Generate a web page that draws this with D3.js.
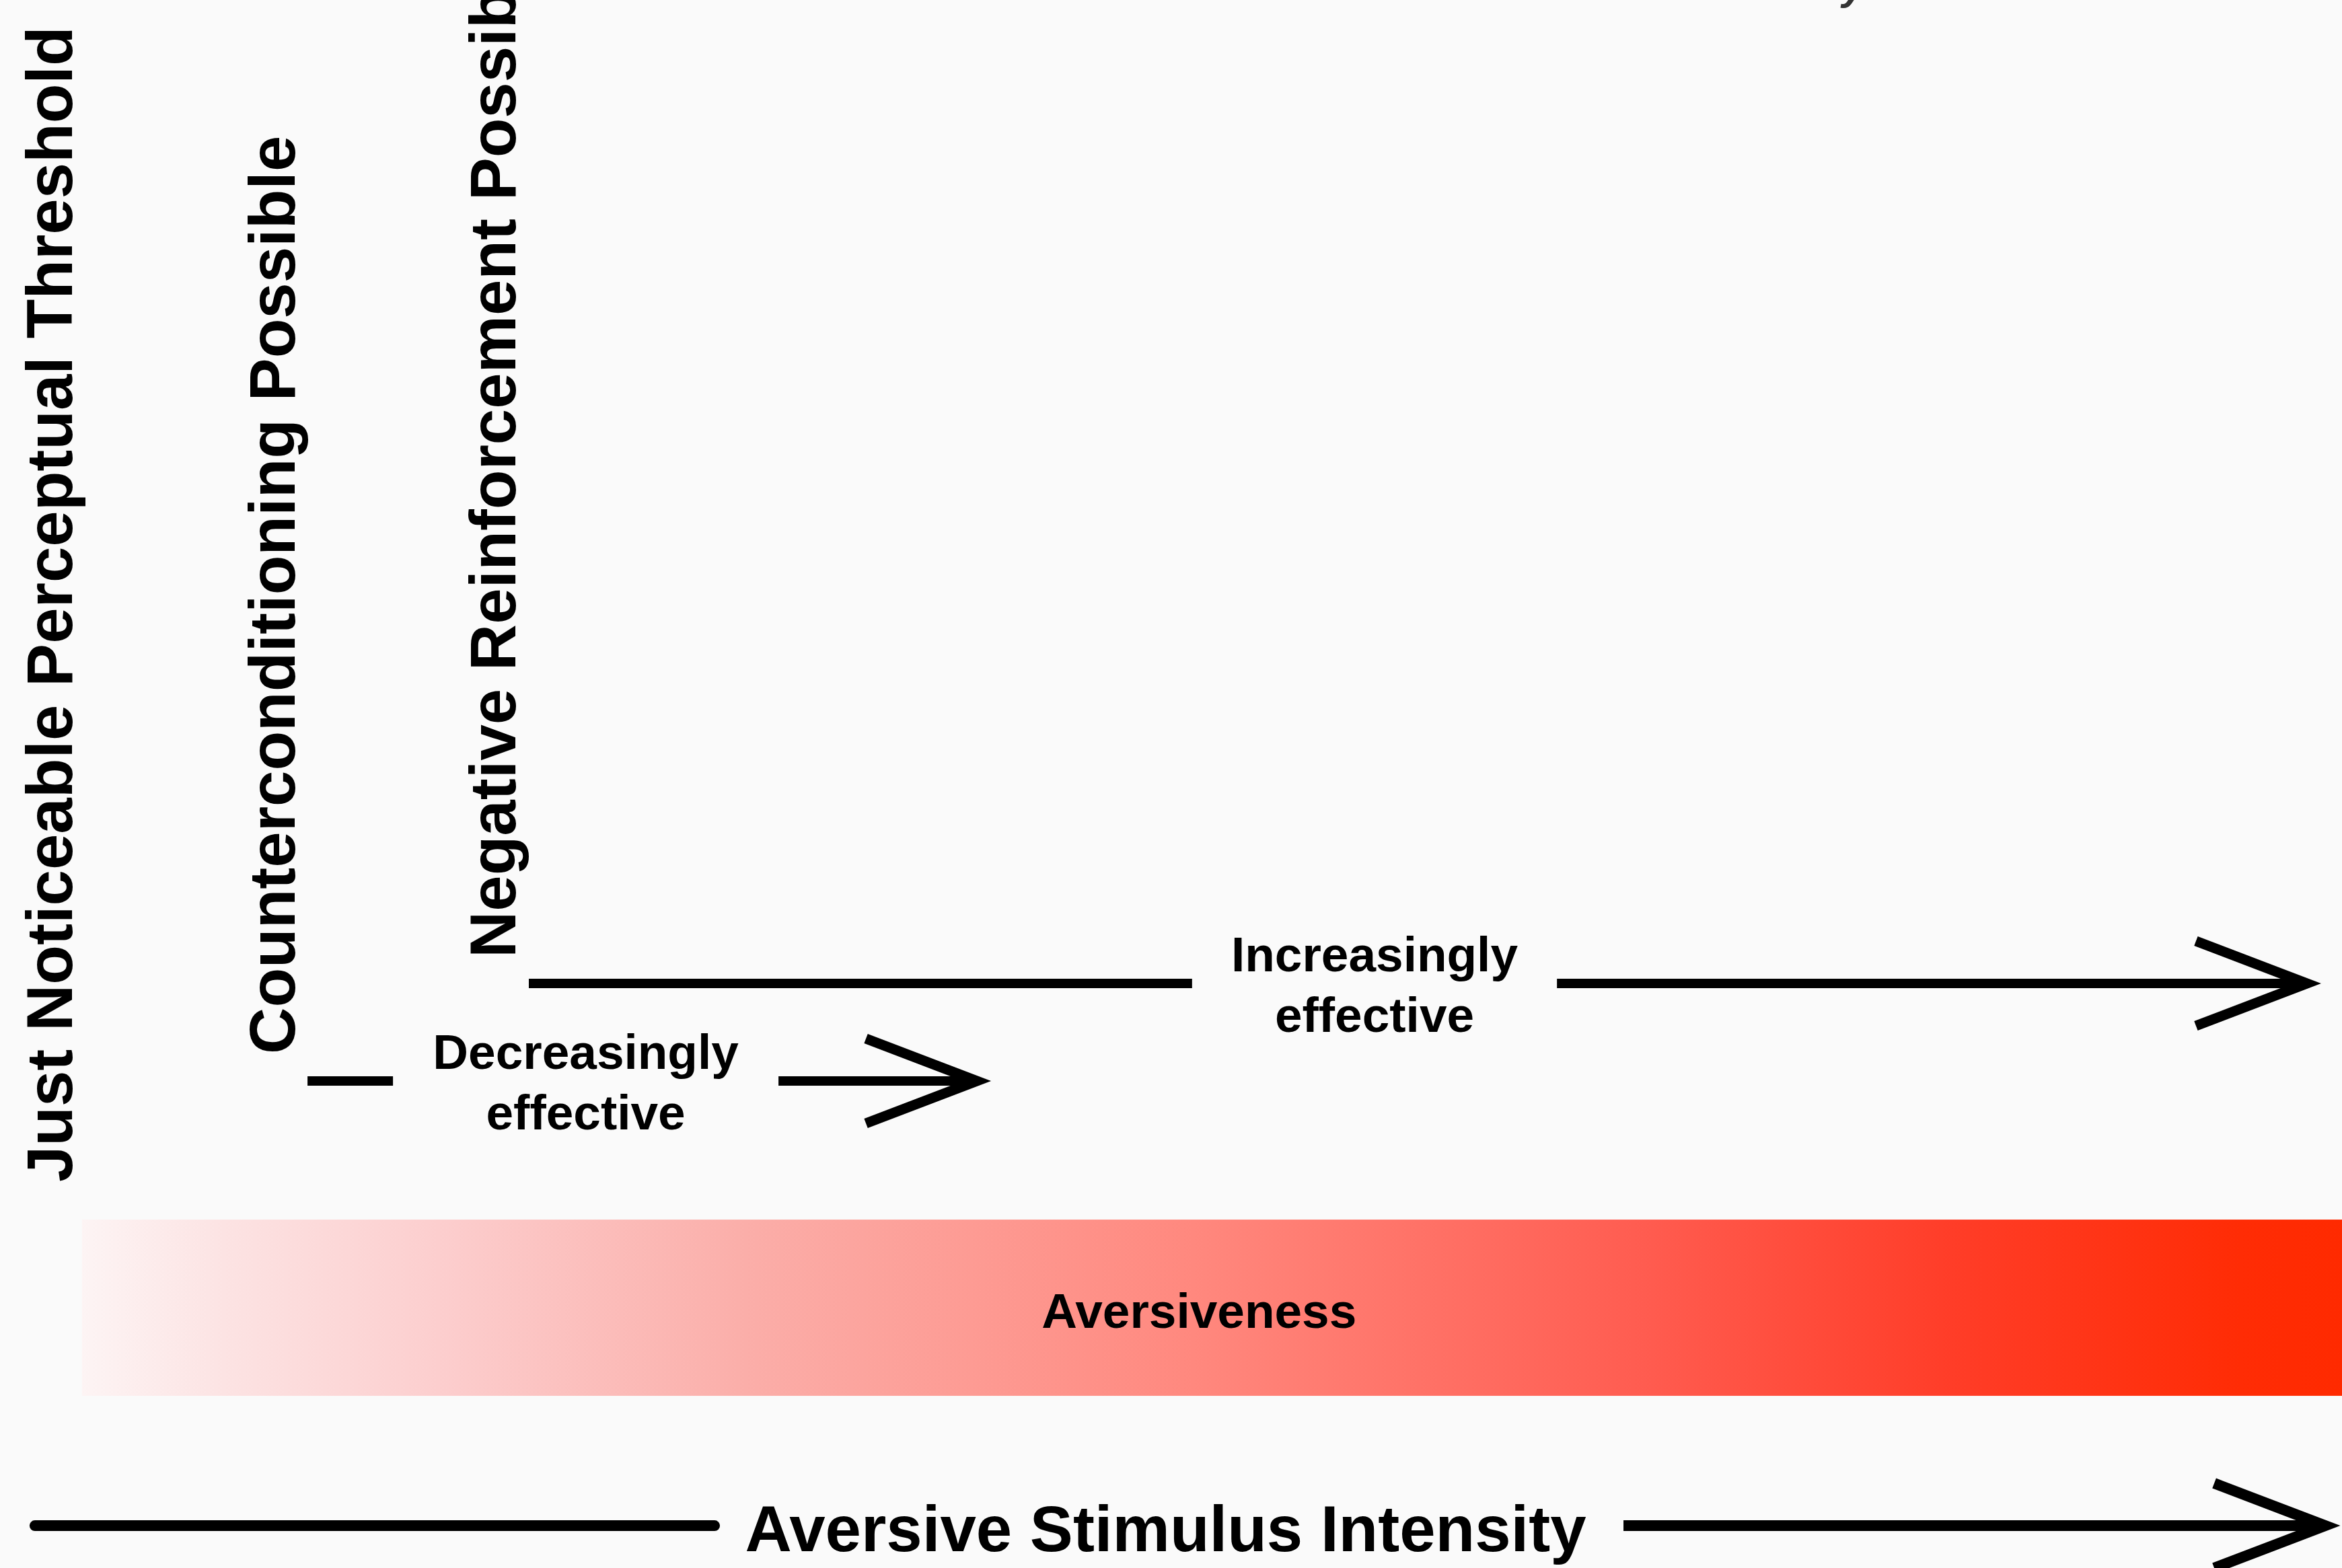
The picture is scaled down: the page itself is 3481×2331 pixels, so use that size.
<!DOCTYPE html>
<html>
<head>
<meta charset="utf-8">
<script src="https://cdn.jsdelivr.net/npm/d3@7"></script>
<style>
  html, body { margin: 0; padding: 0; background: #fafafa; overflow: hidden; }
  svg { display: block; }
  text { font-family: "Liberation Sans", Arial, Helvetica, sans-serif; font-weight: bold; fill: #000; }
</style>
</head>
<body>
<script>
var w = 3481;
var h = 2331;

// thresholds along the intensity axis (x in % of width, label start in % of height)
var thresholdLabels = [
  "Just Noticeable Perceptual Threshold",
  "Counterconditioning Possible",
  "Negative Reinforcement Possible",
];
var thresholdAt = [3.07, 12.58, 22.0];
var thresholdFrom = [75.38, 67.22, 61.09];

// effectiveness ranges: line start, gap for the label, arrow tip, row
var effectLabels = [
  ["Decreasingly", "effective"],
  ["Increasingly", "effective"],
];
var effectStart = [13.13, 22.58];
var effectGapFrom = [16.78, 50.9];
var effectGapTo = [33.24, 66.48];
var effectEnd = [42.26, 99.05];
var effectRow = [68.94, 62.72];

// aversiveness colour band
var barLabel = "Aversiveness";
var barLabelAt = 51.2;
var barFrom = 3.5;
var barTo = 100;
var barTop = 77.78;
var barBottom = 89.02;
var barStops = [0, 0.063, 0.162, 0.294, 0.492, 0.691, 0.827, 0.955, 1];
var barColors = ["#fdf4f4", "#fce3e3", "#fccdcd", "#fbaea9", "#ff887e", "#ff5c50", "#ff3d28", "#ff2c05", "#ff2a00"];

// main axis
var axisLabel = "Aversive Stimulus Intensity";
var axisStart = 1.49;
var axisGapFrom = 30.51;
var axisGapTo = 69.32;
var axisEnd = 99.83;
var axisRow = 97.3;

var clippedTitle = "y";

var x = d3.scaleLinear().domain([0, 100]).range([0, w]);
var y = d3.scaleLinear().domain([0, 100]).range([0, h]);

var headBack = 165;
var headHalf = 63;

var svg = d3.select("body").append("svg").attr("width", w).attr("height", h);
svg.append("rect").attr("width", w).attr("height", h).attr("fill", "#fafafa");

// gradient
var grad = svg.append("defs").append("linearGradient").attr("id", "aversive")
  .attr("x1", "0%").attr("x2", "100%").attr("y1", "0%").attr("y2", "0%");
grad.selectAll("stop")
  .data(barStops)
  .enter()
  .append("stop")
  .attr("offset", function (d) { return d * 100 + "%"; })
  .attr("stop-color", function (d, i) { return barColors[i]; });

svg.append("rect")
  .attr("x", x(barFrom))
  .attr("y", y(barTop))
  .attr("width", x(barTo) - x(barFrom))
  .attr("height", y(barBottom) - y(barTop))
  .attr("fill", "url(#aversive)");

svg.append("text")
  .attr("x", x(barLabelAt))
  .attr("y", y(barTop) + 161)
  .attr("text-anchor", "middle")
  .attr("font-size", 73)
  .text(barLabel);

// vertical threshold labels
svg.selectAll(".threshold")
  .data(thresholdLabels)
  .enter()
  .append("text")
  .attr("class", "threshold")
  .attr("font-size", 96)
  .attr("transform", function (d, i) {
    return "translate(" + x(thresholdAt[i]) + "," + y(thresholdFrom[i]) + ") rotate(-90)";
  })
  .text(function (d) { return d; });

// open chevron head; the miter sticks out past the path point, so pull it back
function arrowHead(g, tipX, tipY, sw) {
  var t = tipX - 19;
  g.append("path")
    .attr("d", "M" + (t - headBack) + "," + (tipY - headHalf) + "L" + t + "," + tipY + "L" + (t - headBack) + "," + (tipY + headHalf))
    .attr("fill", "none")
    .attr("stroke", "#000")
    .attr("stroke-width", sw)
    .attr("stroke-linejoin", "miter")
    .attr("stroke-miterlimit", 10);
}

// effect arrows
var effects = svg.selectAll(".effect")
  .data(effectLabels)
  .enter()
  .append("g")
  .attr("class", "effect");

effects.each(function (d, i) {
  var g = d3.select(this);
  var ry = y(effectRow[i]);
  g.append("line")
    .attr("x1", x(effectStart[i])).attr("x2", x(effectGapFrom[i]))
    .attr("y1", ry).attr("y2", ry)
    .attr("stroke", "#000").attr("stroke-width", 14);
  g.append("line")
    .attr("x1", x(effectGapTo[i])).attr("x2", x(effectEnd[i]) - 30)
    .attr("y1", ry).attr("y2", ry)
    .attr("stroke", "#000").attr("stroke-width", 14);
  arrowHead(g, x(effectEnd[i]), ry, 15);
  var cx = x((effectGapFrom[i] + effectGapTo[i]) / 2);
  g.selectAll("text")
    .data(d)
    .enter()
    .append("text")
    .attr("x", cx)
    .attr("y", function (t, j) { return ry - 18 + j * 90; })
    .attr("text-anchor", "middle")
    .attr("font-size", 73)
    .text(function (t) { return t; });
});

// main axis arrow
var ay = y(axisRow);
svg.append("line")
  .attr("x1", x(axisStart)).attr("x2", x(axisGapFrom))
  .attr("y1", ay).attr("y2", ay)
  .attr("stroke", "#000").attr("stroke-width", 16).attr("stroke-linecap", "round");
svg.append("line")
  .attr("x1", x(axisGapTo)).attr("x2", x(axisEnd) - 30)
  .attr("y1", ay).attr("y2", ay)
  .attr("stroke", "#000").attr("stroke-width", 16);
arrowHead(svg, x(axisEnd), ay, 16);

svg.append("text")
  .attr("x", x((axisGapFrom + axisGapTo) / 2) - 5)
  .attr("y", ay + 38)
  .attr("text-anchor", "middle")
  .attr("font-size", 96)
  .text(axisLabel);

// clipped fragment at the top edge
svg.append("text")
  .attr("x", 2738)
  .attr("y", 0)
  .attr("font-family", "Liberation Serif")
  .attr("font-style", "italic")
  .attr("font-weight", "normal")
  .attr("font-size", 60)
  .style("fill", "#333")
  .text(clippedTitle);
</script>
</body>
</html>
